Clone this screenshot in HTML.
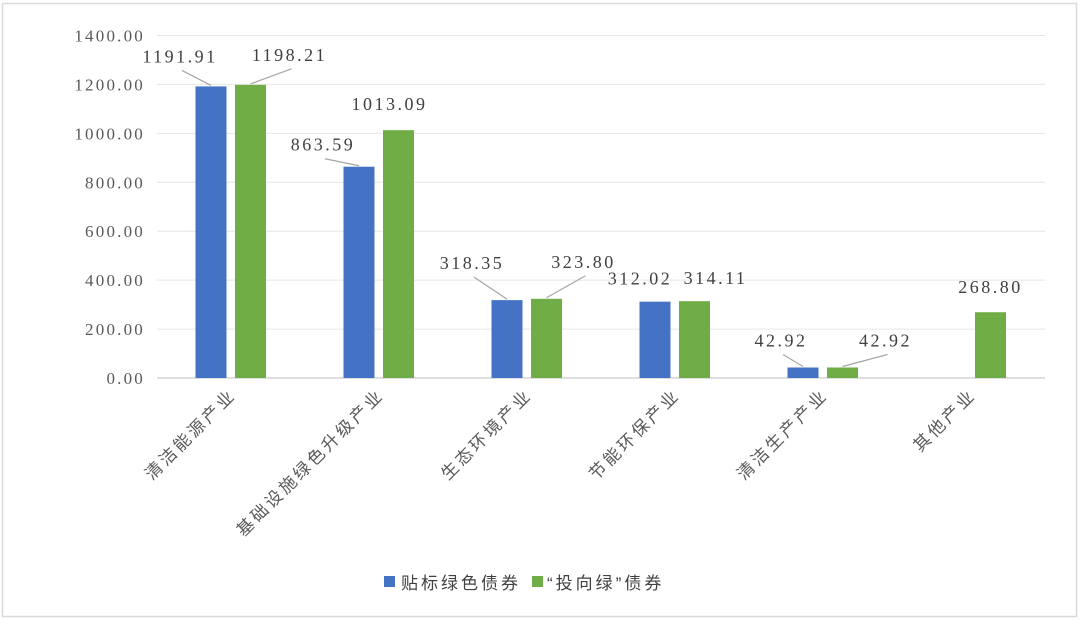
<!DOCTYPE html>
<html><head><meta charset="utf-8"><style>
body{margin:0;background:#fff;}
svg{display:block;font-family:"Liberation Serif","Noto Serif CJK SC",serif;}
</style></head><body>
<svg id="chart" width="1080" height="621" viewBox="0 0 1080 621">
<rect x="2.5" y="3.5" width="1074" height="613" fill="#fff" stroke="#d9d9d9" stroke-width="1.5"/>
<g id="grid"></g><g id="bars"></g><g id="labels"></g><g id="xlabels"></g>
<g font-family="'Liberation Sans','Noto Sans CJK SC',sans-serif" font-size="17" fill="#404040" letter-spacing="3">
<rect x="384" y="576" width="11" height="11" fill="#4472c4"/>
<text x="401" y="589">贴标绿色债券</text>
<rect x="532" y="576" width="11" height="11" fill="#70ad47"/>
<text x="547" y="589">“投向绿”债券</text>
</g>
</svg>
<script>
const categories=["清洁能源产业","基础设施绿色升级产业","生态环境产业","节能环保产业","清洁生产产业","其他产业"];
const labeledBonds=[1191.91,863.59,318.35,312.02,42.92,null];
const directedBonds=[1198.21,1013.09,323.80,314.11,42.92,268.80];
const yTicks=[0,200,400,600,800,1000,1200,1400];
// label placement offsets (styling only): [dx, dy, leader]
const offA=[[-31,-24,1],[-36,-16,1],[-35,-31,1],[-15,-17,0],[-22,-21,1],[0,0,0]];
const offB=[[39,-24,1],[-9,-20,0],[37,-31,1],[21,-17,0],[43,-21,1],[0,-19,0]];
const NS="http://www.w3.org/2000/svg";
const x0=157,step=148,yBase=378,yTop=35.5,yMax=1400;
const y=v=>yBase-(v/yMax)*(yBase-yTop);
const cx=i=>x0+step*(i+0.5);
function mk(tag,attrs,parent,txt){const e=document.createElementNS(NS,tag);for(const k in attrs)e.setAttribute(k,attrs[k]);if(txt!=null)e.textContent=txt;parent.appendChild(e);return e;}
const grid=document.getElementById('grid'),bars=document.getElementById('bars'),labels=document.getElementById('labels'),xl=document.getElementById('xlabels');
yTicks.forEach(t=>{
  const l=mk('line',{x1:x0,x2:x0+step*6,y1:y(t),y2:y(t),stroke:t===0?'#bfbfbf':'#e6e6e6','stroke-width':1},grid);
  
  
  const tx=mk('text',{x:145,y:y(t)+6,'text-anchor':'end','font-size':17,fill:'#595959','letter-spacing':'2.2'},grid,t.toFixed(2));
  
  
});
function drawSeries(vals,dx,color,name,offs){
  vals.forEach((v,i)=>{
    if(v==null)return;
    const bx=cx(i)+dx-15.5;
    const r=mk('rect',{x:bx,y:y(v),width:31,height:yBase-y(v),fill:color},bars);
    
    
    const o=offs[i];const lx=bx+15.5+o[0],ly=y(v)+o[1];
    if(o[2]){
      const ln=mk('line',{x1:lx+2,y1:ly+8,x2:bx+15.5,y2:y(v)-1,stroke:'#a6a6a6','stroke-width':1.2},labels);
      
      
    }
    const t=mk('text',{x:lx,y:ly,'text-anchor':'middle','font-size':18,fill:'#404040','letter-spacing':'2.5'},labels,v.toFixed(2));
    
    
  });
}
drawSeries(labeledBonds,-20,'#4472c4','labeled',offA);
drawSeries(directedBonds,19.5,'#70ad47','directed',offB);
categories.forEach((c,i)=>{
  const px=cx(i)+6,py=396;
  const t=mk('text',{x:px,y:py,'text-anchor':'end','font-size':17,fill:'#595959','letter-spacing':'3',transform:`rotate(-45 ${px} ${py})`,'font-family':"'Liberation Sans','Noto Sans CJK SC',sans-serif"},xl,c);
  
  
});
</script>
</body></html>
